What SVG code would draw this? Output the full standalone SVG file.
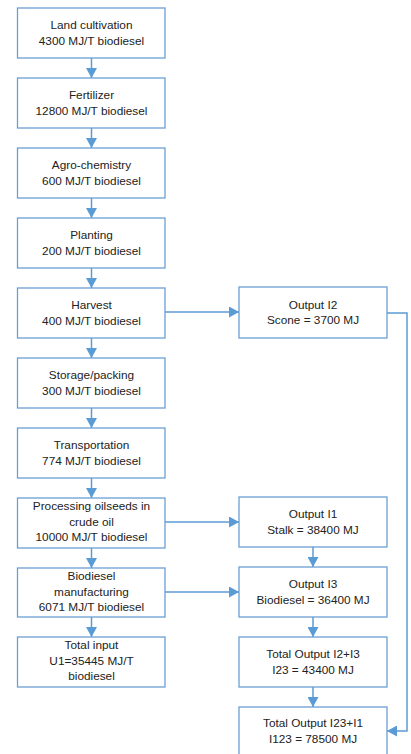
<svg xmlns="http://www.w3.org/2000/svg" width="411" height="754" viewBox="0 0 411 754">
<defs>
<marker id="ah" markerWidth="11" markerHeight="11" refX="10" refY="5.5" orient="auto" markerUnits="userSpaceOnUse">
<path d="M0,0 L10,5.5 L0,11 z" fill="#5B9BD5"/>
</marker>
</defs>
<style>
.box{fill:#fff;stroke:#6A9FD4;stroke-width:1.3}
.t{font-family:"Liberation Sans",Arial,sans-serif;font-size:11.8px;fill:#222;text-anchor:middle}
.c{fill:none;stroke:#5B9BD5;stroke-width:1.5;marker-end:url(#ah)}
</style>
<rect width="411" height="754" fill="#fff"/>
<g id="connectors">
<line class="c" x1="91.5" y1="58" x2="91.5" y2="78"/>
<line class="c" x1="91.5" y1="128" x2="91.5" y2="148"/>
<line class="c" x1="91.5" y1="198" x2="91.5" y2="218"/>
<line class="c" x1="91.5" y1="268" x2="91.5" y2="288"/>
<line class="c" x1="91.5" y1="338" x2="91.5" y2="358"/>
<line class="c" x1="91.5" y1="408" x2="91.5" y2="428"/>
<line class="c" x1="91.5" y1="478" x2="91.5" y2="498"/>
<line class="c" x1="91.5" y1="548" x2="91.5" y2="568"/>
<line class="c" x1="91.5" y1="617" x2="91.5" y2="637"/>
<line class="c" x1="165" y1="312" x2="239" y2="312"/>
<line class="c" x1="165" y1="522" x2="239" y2="522"/>
<line class="c" x1="165" y1="592" x2="239" y2="592"/>
<line class="c" x1="313" y1="547" x2="313" y2="567"/>
<line class="c" x1="313" y1="617" x2="313" y2="637"/>
<line class="c" x1="313" y1="687" x2="313" y2="707"/>
<polyline class="c" points="387,313 407,313 407,731 387,731"/>
</g>
<g id="n1"><rect class="box" x="17.5" y="8" width="147.5" height="50"/><text class="t" x="91.5" y="29">Land cultivation</text><text class="t" x="91.5" y="45">4300 MJ/T biodiesel</text></g>
<g id="n2"><rect class="box" x="17.5" y="78" width="147.5" height="50"/><text class="t" x="91.5" y="99">Fertilizer</text><text class="t" x="91.5" y="115">12800 MJ/T biodiesel</text></g>
<g id="n3"><rect class="box" x="17.5" y="148" width="147.5" height="50"/><text class="t" x="91.5" y="169">Agro-chemistry</text><text class="t" x="91.5" y="185">600 MJ/T biodiesel</text></g>
<g id="n4"><rect class="box" x="17.5" y="218" width="147.5" height="50"/><text class="t" x="91.5" y="239">Planting</text><text class="t" x="91.5" y="255">200 MJ/T biodiesel</text></g>
<g id="n5"><rect class="box" x="17.5" y="288" width="147.5" height="50"/><text class="t" x="91.5" y="309">Harvest</text><text class="t" x="91.5" y="325">400 MJ/T biodiesel</text></g>
<g id="n6"><rect class="box" x="17.5" y="358" width="147.5" height="50"/><text class="t" x="91.5" y="379">Storage/packing</text><text class="t" x="91.5" y="395">300 MJ/T biodiesel</text></g>
<g id="n7"><rect class="box" x="17.5" y="428" width="147.5" height="50"/><text class="t" x="91.5" y="449">Transportation</text><text class="t" x="91.5" y="465">774 MJ/T biodiesel</text></g>
<g id="n8"><rect class="box" x="17.5" y="498" width="147.5" height="50"/><text class="t" x="91.5" y="510">Processing oilseeds in</text><text class="t" x="91.5" y="526">crude oil</text><text class="t" x="91.5" y="541">10000 MJ/T biodiesel</text></g>
<g id="n9"><rect class="box" x="17.5" y="568" width="147.5" height="49"/><text class="t" x="91.5" y="580">Biodiesel</text><text class="t" x="91.5" y="596">manufacturing</text><text class="t" x="91.5" y="611">6071 MJ/T biodiesel</text></g>
<g id="n10"><rect class="box" x="17.5" y="637" width="147.5" height="50"/><text class="t" x="91.5" y="649">Total input</text><text class="t" x="91.5" y="665">U1=35445 MJ/T</text><text class="t" x="91.5" y="680">biodiesel</text></g>
<g id="o2"><rect class="box" x="239" y="287" width="148" height="51"/><text class="t" x="313" y="309">Output I2</text><text class="t" x="313" y="324">Scone = 3700 MJ</text></g>
<g id="o1"><rect class="box" x="239" y="497" width="148" height="50"/><text class="t" x="313" y="518">Output I1</text><text class="t" x="313" y="534">Stalk = 38400 MJ</text></g>
<g id="o3"><rect class="box" x="239" y="567" width="148" height="50"/><text class="t" x="313" y="588">Output I3</text><text class="t" x="313" y="604">Biodiesel = 36400 MJ</text></g>
<g id="o23"><rect class="box" x="239" y="637" width="148" height="50"/><text class="t" x="313" y="658">Total Output I2+I3</text><text class="t" x="313" y="674">I23 = 43400 MJ</text></g>
<g id="o123"><rect class="box" x="239" y="707" width="148" height="52"/><text class="t" x="313" y="727">Total Output I23+I1</text><text class="t" x="313" y="743">I123 = 78500 MJ</text></g>
</svg>
